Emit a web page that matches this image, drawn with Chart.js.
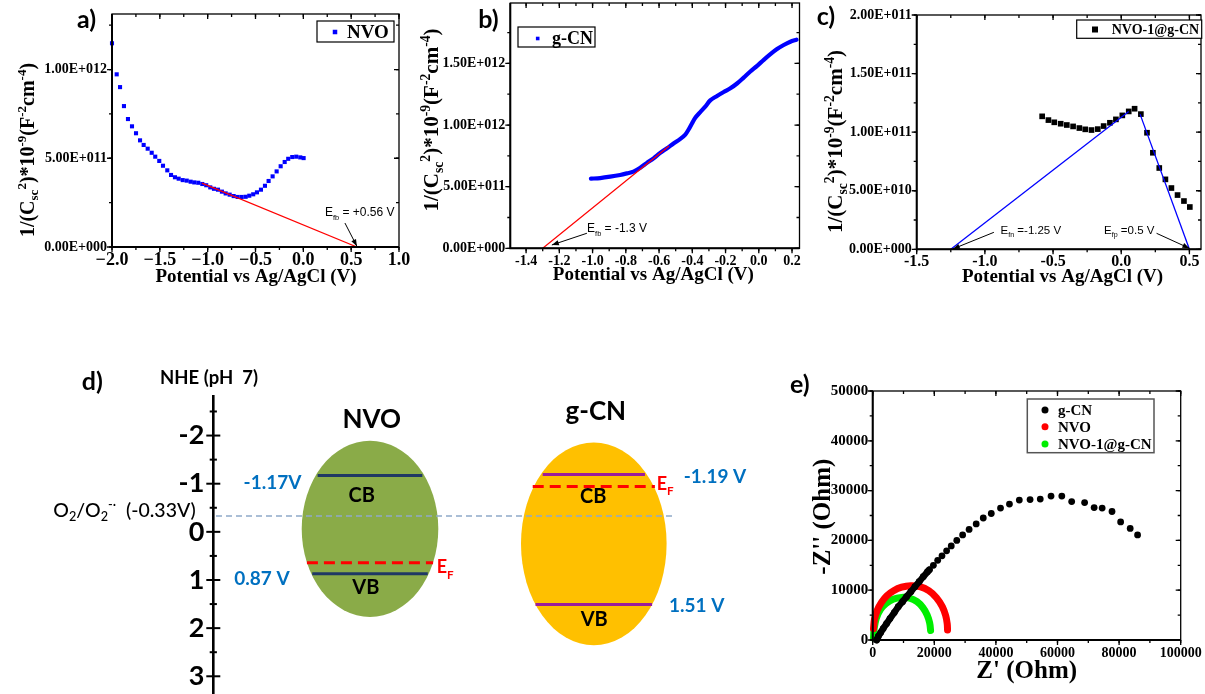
<!DOCTYPE html>
<html>
<head>
<meta charset="utf-8">
<script src="https://cdn.jsdelivr.net/npm/chart.js@4.4.1/dist/chart.umd.min.js"></script>
<style>
  html, body { margin: 0; padding: 0; background: #fff; }
  #fig { position: relative; width: 1205px; height: 694px; overflow: hidden; background: #fff; }
  #fig canvas { position: absolute; }
</style>
</head>
<body>
<div id="fig">
  <canvas id="pa" width="412" height="290" style="left:0;top:0"></canvas>
  <canvas id="pb" width="400" height="290" style="left:405px;top:0"></canvas>
  <canvas id="pc" width="405" height="290" style="left:800px;top:0"></canvas>
  <canvas id="pd" width="780" height="344" style="left:0;top:350px"></canvas>
  <canvas id="pe" width="415" height="324" style="left:790px;top:370px"></canvas>
</div>
<script>
// ---------------- data ----------------
// 1/C^2 values are kept in units of 1e12 (a, b) and 1e11 (c); tick labels restore the full value
const UNIT_AB = 1e12, UNIT_C = 1e11;

// (a) Mott–Schottky, NVO
const nvoPotential = [-2.000,-1.951,-1.916,-1.875,-1.833,-1.791,-1.749,-1.707,-1.669,-1.627,-1.585,-1.548,-1.506,-1.467,-1.422,-1.383,-1.342,-1.303,-1.261,-1.219,-1.178,-1.140,-1.098,-1.056,-1.015,-0.973,-0.934,-0.892,-0.851,-0.812,-0.770,-0.728,-0.687,-0.645,-0.603,-0.565,-0.524,-0.485,-0.443,-0.401,-0.363,-0.321,-0.279,-0.237,-0.195,-0.158,-0.116,-0.074,-0.032,0.003];
const nvoInvC2 = [1.148,0.973,0.901,0.794,0.721,0.680,0.641,0.601,0.575,0.554,0.531,0.509,0.485,0.458,0.432,0.406,0.393,0.385,0.377,0.374,0.368,0.364,0.362,0.355,0.348,0.336,0.328,0.323,0.312,0.302,0.295,0.287,0.282,0.282,0.283,0.289,0.297,0.308,0.323,0.345,0.372,0.398,0.426,0.455,0.479,0.497,0.507,0.509,0.505,0.501];
const nvoFitX = [-1.06, 0.56];
const nvoFitY = [0.36, 0];

// (b) Mott–Schottky, g-CN
const gcnPotential = [-1.010,-0.954,-0.894,-0.834,-0.793,-0.754,-0.713,-0.673,-0.633,-0.593,-0.552,-0.513,-0.472,-0.442,-0.422,-0.402,-0.382,-0.352,-0.322,-0.292,-0.251,-0.211,-0.171,-0.131,-0.091,-0.051,-0.010,0.030,0.070,0.110,0.150,0.190,0.227];
const gcnInvC2 = [0.565,0.570,0.581,0.595,0.608,0.622,0.654,0.693,0.730,0.774,0.812,0.850,0.888,0.923,0.964,1.013,1.059,1.105,1.149,1.200,1.236,1.268,1.298,1.337,1.385,1.434,1.480,1.529,1.575,1.616,1.649,1.676,1.692];
const gcnFitX = [-1.3, -0.54];
const gcnFitY = [0, 0.83];

// (c) Mott–Schottky, NVO-1@g-CN
const compPotential = [-0.580,-0.534,-0.491,-0.444,-0.399,-0.353,-0.307,-0.264,-0.218,-0.172,-0.129,-0.083,-0.039,0.008,0.055,0.098,0.144,0.189,0.232,0.279,0.324,0.368,0.413,0.460,0.503];
const compInvC2 = [1.135,1.103,1.084,1.072,1.061,1.049,1.035,1.024,1.018,1.026,1.052,1.080,1.109,1.143,1.177,1.200,1.154,0.995,0.824,0.694,0.597,0.523,0.463,0.412,0.361];
const compFitNX = [-1.25, 0.055];
const compFitNY = [0, 1.177];
const compFitPX = [0.138, 0.5];
const compFitPY = [1.154, 0];

// (d) band positions, V vs NHE (pH 7)
const bandNames = ['NVO', 'g-CN'];
const cbEdge = [-1.17, -1.19];
const vbEdge = [0.87, 1.51];
const fermiLevel = [0.64, -0.94];
const superoxidePotential = -0.33;

// (e) Nyquist, Ohm
const gcnZre = [1300,1800,2600,3400,4500,5600,7000,8300,9700,11000,12400,13700,15100,16400,17800,18400,19700,21100,22500,24000,25500,27300,29200,31300,33600,35900,38500,41500,44400,47600,51100,54400,57900,61400,64600,68800,71900,74500,77700,80500,83600,86000];
const gcnZim = [0,700,1500,2300,3300,4300,5500,6700,7700,8700,9700,10700,11700,12700,13700,14100,15000,16000,16900,17900,18900,20000,21100,22200,23300,24500,25400,26500,27300,28100,28200,28300,28900,28900,27800,27600,26600,26500,25800,23700,22400,21100];
const nvoZre = [250,600,1500,2900,4600,6800,9400,12300,15300,18200,20700,22600,23700,24200,24300];
const nvoZim = [2300,4200,6000,7600,8900,9900,10600,10900,10700,9900,8500,6700,4900,3200,2000];
const compZre = [250,500,1200,2500,4300,6600,9300,12000,14400,16300,17700,18500,18800];
const compZim = [400,2400,4400,6100,7300,8200,8550,8400,7700,6500,5000,3400,1900];

// ---------------- helpers ----------------
const SERIF = '"Liberation Serif", "Times New Roman", serif';
const ARIAL = '"Liberation Sans", Arial, sans-serif';
const CALI = 'Lato, "Open Sans", sans-serif';

const pts = (xs, ys) => xs.map((x, i) => ({ x, y: ys[i] }));

function sci(v) {
  if (Math.abs(v) < 1) return '0.00E+000';
  const e = Math.floor(Math.log10(Math.abs(v)) + 1e-9);
  const m = v / Math.pow(10, e);
  return m.toFixed(2) + 'E' + (e >= 0 ? '+' : '-') + String(Math.abs(e)).padStart(3, '0');
}

function richText(ctx, parts, x, y, o) {
  const size = o.size, wt = o.weight || 'normal', fam = o.family;
  const big = `${wt} ${size}px ${fam}`;
  const small = `${wt} ${(size * (o.scriptScale || 0.65)).toFixed(1)}px ${fam}`;
  const segs = parts.map(p => typeof p === 'string' ? { t: p } : { t: p.t, sub: p.sub, sup: p.sup });
  let total = 0;
  for (const s of segs) { ctx.font = (s.sub || s.sup) ? small : big; s.w = ctx.measureText(s.t).width; total += s.w; }
  ctx.save();
  ctx.translate(x, y);
  if (o.rotate) ctx.rotate(o.rotate);
  ctx.fillStyle = o.color || '#000';
  ctx.textBaseline = 'alphabetic';
  ctx.textAlign = 'left';
  let cx = o.align === 'center' ? -total / 2 : o.align === 'right' ? -total : 0;
  for (const s of segs) {
    ctx.font = (s.sub || s.sup) ? small : big;
    const dy = s.sub ? size * (o.subShift || 0.22) : s.sup ? -size * (o.supShift || 0.4) : 0;
    ctx.fillText(s.t, cx, dy);
    cx += s.w;
  }
  ctx.restore();
}

function drawArrow(ctx, x0, y0, x1, y1, head, half) {
  ctx.beginPath(); ctx.moveTo(x0, y0); ctx.lineTo(x1, y1); ctx.stroke();
  const a = Math.atan2(y1 - y0, x1 - x0);
  const bx = x1 - head * Math.cos(a), by = y1 - head * Math.sin(a);
  ctx.beginPath();
  ctx.moveTo(x1, y1);
  ctx.lineTo(bx + half * Math.sin(a), by - half * Math.cos(a));
  ctx.lineTo(bx - half * Math.sin(a), by + half * Math.cos(a));
  ctx.closePath(); ctx.fill();
}

function drawMarker(ctx, style, x, y, size, color) {
  ctx.fillStyle = color;
  if (style === 'rect') ctx.fillRect(x - size / 2, y - size / 2, size, size);
  else { ctx.beginPath(); ctx.arc(x, y, size / 2, 0, Math.PI * 2); ctx.fill(); }
}

// fixed axis thickness so the plot frame lands where it should
const fixAxis = size => scale => {
  if (scale.isHorizontal()) scale.height = size; else scale.width = size;
  scale.paddingLeft = scale.paddingRight = scale.paddingTop = scale.paddingBottom = 0;
};

// ---------------- plugins ----------------
// boxed frame with major & minor ticks on all four sides
const framePlugin = o => ({
  id: 'frame',
  afterDraw(chart) {
    const { ctx, chartArea: c } = chart;
    const xs = chart.scales.x, ys = chart.scales.y;
    ctx.save();
    ctx.strokeStyle = '#000';
    ctx.lineWidth = o.box;
    ctx.strokeRect(c.left, c.top, c.right - c.left, c.bottom - c.top);
    ctx.lineWidth = o.axis;
    ctx.beginPath(); ctx.moveTo(c.left, c.top); ctx.lineTo(c.left, c.bottom); ctx.lineTo(c.right, c.bottom); ctx.stroke();
    ctx.lineWidth = o.tick;
    const each = (scale, step, len) => {
      const i0 = Math.ceil(scale.min / step - 1e-6), i1 = Math.floor(scale.max / step + 1e-6);
      for (let i = i0; i <= i1; i++) {
        const p = scale.getPixelForValue(i * step);
        ctx.beginPath();
        if (scale.isHorizontal()) {
          ctx.moveTo(p, c.bottom); ctx.lineTo(p, c.bottom + len);
          ctx.moveTo(p, c.top); ctx.lineTo(p, c.top + len);
        } else {
          ctx.moveTo(c.left - len, p); ctx.lineTo(c.left, p);
          ctx.moveTo(c.right, p); ctx.lineTo(c.right - len, p);
        }
        ctx.stroke();
      }
    };
    each(xs, xs.options.ticks.stepSize, o.major);
    each(xs, o.xMinor, o.minor);
    each(ys, ys.options.ticks.stepSize, o.major);
    each(ys, o.yMinor, o.minor);
    ctx.restore();
  }
});

const textPlugin = items => ({
  id: 'texts',
  afterDraw(chart) { for (const it of items) richText(chart.ctx, it.parts, it.x, it.y, it); }
});

const legendPlugin = o => ({
  id: 'boxLegend',
  afterDraw(chart) {
    const ctx = chart.ctx;
    ctx.save();
    ctx.fillStyle = '#fff';
    ctx.fillRect(o.box[0], o.box[1], o.box[2], o.box[3]);
    ctx.strokeStyle = o.stroke || '#000';
    ctx.lineWidth = o.lineWidth || 1.2;
    ctx.strokeRect(o.box[0], o.box[1], o.box[2], o.box[3]);
    for (const it of o.items) {
      const ds = chart.data.datasets[it.ds];
      drawMarker(ctx, it.style, it.mx, it.y, it.size, ds.borderColor);
      ctx.fillStyle = '#000';
      ctx.font = `bold ${o.font}px ${SERIF}`;
      ctx.textBaseline = 'middle';
      ctx.textAlign = 'left';
      ctx.fillText(ds.label, it.tx, it.y + 1);
    }
    ctx.restore();
  }
});

// annotation text + arrow, anchored in data coordinates
const notePlugin = items => ({
  id: 'notes',
  afterDraw(chart) {
    const ctx = chart.ctx, xs = chart.scales.x, ys = chart.scales.y;
    ctx.save();
    ctx.strokeStyle = '#000'; ctx.fillStyle = '#000'; ctx.lineWidth = 1;
    for (const n of items) {
      richText(ctx, n.parts, xs.getPixelForValue(n.tx), ys.getPixelForValue(n.ty), { size: n.size, family: ARIAL, subShift: 0.3, scriptScale: 0.62 });
      drawArrow(ctx, xs.getPixelForValue(n.from[0]), ys.getPixelForValue(n.from[1]),
        xs.getPixelForValue(n.to[0]), ys.getPixelForValue(n.to[1]), 7, 2.6);
    }
    ctx.restore();
  }
});

const baseOptions = (cfg) => ({
  responsive: false, animation: false, devicePixelRatio: 1, events: [],
  layout: { padding: cfg.padding },
  plugins: { legend: { display: false }, tooltip: { enabled: false } },
  scales: {
    x: {
      type: 'linear', min: cfg.x.min, max: cfg.x.max, afterFit: fixAxis(cfg.x.size),
      grid: { display: false, drawTicks: false }, border: { display: false },
      ticks: { stepSize: cfg.x.step, includeBounds: false, autoSkip: false, maxRotation: 0, minRotation: 0,
        padding: cfg.x.pad, color: '#000', font: { family: SERIF, weight: 'bold', size: cfg.x.font, lineHeight: 1.2 },
        callback: cfg.x.fmt }
    },
    y: {
      type: 'linear', min: cfg.y.min, max: cfg.y.max, afterFit: fixAxis(cfg.y.size),
      grid: { display: false, drawTicks: false }, border: { display: false },
      ticks: { stepSize: cfg.y.step, includeBounds: false, autoSkip: false,
        padding: cfg.y.pad, color: '#000', font: { family: SERIF, weight: 'bold', size: cfg.y.font },
        callback: cfg.y.fmt }
    }
  }
});

const msYTitle = ['1/(C', { t: 'sc', sub: true }, { t: '2', sup: true }, ')*10', { t: '-9', sup: true },
  '(F', { t: '-2', sup: true }, 'cm', { t: '-4', sup: true }, ')'];
const potTitle = ['Potential vs Ag/AgCl (V)'];
const fmt1 = v => v.toFixed(1);
const fmt1m = v => v.toFixed(1).replace('-', '\u2212');
const sciAB = v => sci(Math.round(v * 100) / 100 * UNIT_AB);
const sciC = v => sci(Math.round(v * 100) / 100 * UNIT_C);

// ---------------- (a) ----------------
new Chart(document.getElementById('pa'), {
  type: 'scatter',
  data: { datasets: [
    { label: 'fit', data: pts(nvoFitX, nvoFitY), showLine: true, borderColor: '#ff0000', borderWidth: 1.2, pointRadius: 0 },
    { label: 'NVO', data: pts(nvoPotential, nvoInvC2), pointStyle: 'rect', pointRadius: 2.9,
      pointBackgroundColor: '#0000ff', borderColor: '#0000ff', pointBorderWidth: 0, clip: false }
  ] },
  options: baseOptions({
    padding: { left: 0, top: 14, right: 13, bottom: 0 },
    x: { min: -2, max: 1, step: 0.5, size: 43, pad: 2.5, font: 18, fmt: fmt1m },
    y: { min: 0, max: 1.313, step: 0.5, size: 112, pad: 5, font: 14, fmt: sciAB }
  }),
  plugins: [
    framePlugin({ box: 1.3, axis: 2, tick: 1.3, major: 5, minor: 3, xMinor: 0.25, yMinor: 0.25 }),
    notePlugin([{ parts: ['E', { t: 'fb', sub: true }, ' = +0.56 V'], tx: 0.226, ty: 0.1746, size: 12,
      from: [0.435, 0.135], to: [nvoFitX[1], 0.004] }]),
    legendPlugin({ box: [317, 21, 77, 21], font: 19, items: [{ ds: 1, style: 'rect', size: 4.5, mx: 335, y: 32, tx: 347 }] }),
    textPlugin([
      { parts: msYTitle, x: 33.5, y: 150, rotate: -Math.PI / 2, size: 20, weight: 'bold', family: SERIF, align: 'center' },
      { parts: potTitle, x: 256, y: 282, size: 19, weight: 'bold', family: SERIF, align: 'center' },
      { parts: ['a)'], x: 77, y: 28, size: 25, weight: 'bold', family: CALI }
    ])
  ]
});

// ---------------- (b) ----------------
new Chart(document.getElementById('pb'), {
  type: 'scatter',
  data: { datasets: [
    { label: 'fit', data: pts(gcnFitX, gcnFitY), showLine: true, borderColor: '#ff0000', borderWidth: 1.2, pointRadius: 0 },
    { label: 'g-CN', data: pts(gcnPotential, gcnInvC2), showLine: true, borderColor: '#0000ff', borderWidth: 4.2,
      tension: 0.3, pointRadius: 0, borderCapStyle: 'round', clip: false }
  ] },
  options: baseOptions({
    padding: { left: 0, top: 3, right: 5.5, bottom: 0 },
    x: { min: -1.495, max: 0.245, step: 0.2, size: 41.7, pad: 5, font: 14, fmt: fmt1 },
    y: { min: 0, max: 1.99, step: 0.5, size: 105.3, pad: 5, font: 14, fmt: sciAB }
  }),
  plugins: [
    framePlugin({ box: 1.3, axis: 2, tick: 1.3, major: 5, minor: 3, xMinor: 0.1, yMinor: 0.25 }),
    notePlugin([{ parts: ['E', { t: 'fb', sub: true }, ' = -1.3 V'], tx: -1.033, ty: 0.133, size: 12,
      from: [-1.034, 0.122], to: [-1.245, 0.027] }]),
    legendPlugin({ box: [113, 27, 77, 20], font: 18, items: [{ ds: 1, style: 'rect', size: 3.6, mx: 132.7, y: 38.5, tx: 147 }] }),
    textPlugin([
      { parts: msYTitle, x: 33, y: 120, rotate: -Math.PI / 2, size: 21, weight: 'bold', family: SERIF, align: 'center' },
      { parts: potTitle, x: 248.3, y: 280, size: 19, weight: 'bold', family: SERIF, align: 'center' },
      { parts: ['b)'], x: 73.3, y: 28, size: 25, weight: 'bold', family: CALI }
    ])
  ]
});

// ---------------- (c) ----------------
new Chart(document.getElementById('pc'), {
  type: 'scatter',
  data: { datasets: [
    { label: 'fit n', data: pts(compFitNX, compFitNY), showLine: true, borderColor: '#0000ff', borderWidth: 1.3, pointRadius: 0 },
    { label: 'fit p', data: pts(compFitPX, compFitPY), showLine: true, borderColor: '#0000ff', borderWidth: 1.3, pointRadius: 0 },
    { label: 'NVO-1@g-CN', data: pts(compPotential, compInvC2), pointStyle: 'rect', pointRadius: 4,
      pointBackgroundColor: '#000', borderColor: '#000', pointBorderWidth: 0, clip: false }
  ] },
  options: baseOptions({
    padding: { left: 0, top: 15, right: 0, bottom: 0 },
    x: { min: -1.5, max: 0.585, step: 0.5, size: 40.7, pad: 2.8, font: 16, fmt: fmt1 },
    y: { min: 0, max: 2, step: 0.5, size: 116.7, pad: 5, font: 14, fmt: sciC }
  }),
  plugins: [
    framePlugin({ box: 1.3, axis: 2, tick: 1.3, major: 5, minor: 3, xMinor: 0.25, yMinor: 0.25 }),
    notePlugin([
      { parts: ['E', { t: 'fn', sub: true }, ' =-1.25 V'], tx: -0.885, ty: 0.131, size: 11.5,
        from: [-0.934, 0.145], to: [compFitNX[0] + 0.015, 0.003] },
      { parts: ['E', { t: 'fp', sub: true }, ' =0.5 V'], tx: -0.126, ty: 0.131, size: 11.5,
        from: [0.259, 0.1365], to: [compFitPX[1], 0.0085] }
    ]),
    legendPlugin({ box: [276.7, 20, 125, 18.3], font: 14, items: [{ ds: 2, style: 'rect', size: 6, mx: 295, y: 29.5, tx: 311.7 }] }),
    textPlugin([
      { parts: msYTitle, x: 42, y: 141.5, rotate: -Math.PI / 2, size: 21, weight: 'bold', family: SERIF, align: 'center' },
      { parts: potTitle, x: 262.5, y: 282, size: 19, weight: 'bold', family: SERIF, align: 'center' },
      { parts: ['c)'], x: 16.7, y: 25, size: 25, weight: 'bold', family: CALI }
    ])
  ]
});

// ---------------- (d) band diagram ----------------
// ellipse bodies: centre/half-width in layout units, centre/half-height in V
const bandBodies = [
  { cx: 156.7, rx: 68.3, cy: -0.062, ry: 1.83, fill: '#8AAB48' },
  { cx: 380.5, rx: 72.8, cy: 0.249, ry: 2.106, fill: '#FFC000' }
];
// horizontal extent of a level inside its ellipse body
function chord(body, level, inset) {
  const t = (level - body.cy) / body.ry;
  const h = body.rx * Math.sqrt(Math.max(0, 1 - t * t)) - inset;
  return [body.cx - h, body.cx + h];
}
const level = (body, v, inset, color, dash, width) => {
  const [x0, x1] = chord(body, v, inset);
  return { data: [{ x: x0, y: v }, { x: x1, y: v }], showLine: true, borderColor: color,
    borderWidth: width, borderDash: dash, pointRadius: 0 };
};
const NAVY = '#1F3864', PURPLE = '#9B1D9B', RED = '#FF0000', BLUE = '#0070C0';

const ellipsePlugin = {
  id: 'bodies',
  beforeDatasetsDraw(chart) {
    const ctx = chart.ctx, xs = chart.scales.x, ys = chart.scales.y;
    ctx.save();
    for (const b of bandBodies) {
      const x = xs.getPixelForValue(b.cx), y = ys.getPixelForValue(b.cy);
      const rx = xs.getPixelForValue(b.cx + b.rx) - x;
      const ry = Math.abs(ys.getPixelForValue(b.cy + b.ry) - y);
      ctx.fillStyle = b.fill;
      ctx.beginPath(); ctx.ellipse(x, y, rx, ry, 0, 0, Math.PI * 2); ctx.fill();
    }
    ctx.restore();
  }
};
const crossTicks = {
  id: 'crossTicks',
  afterDraw(chart) {
    const ctx = chart.ctx, ys = chart.scales.y, x = chart.chartArea.left;
    ctx.save(); ctx.strokeStyle = '#000'; ctx.lineWidth = 2;
    const i0 = Math.ceil(ys.min * 2 - 1e-6), i1 = Math.floor(ys.max * 2 + 1e-6);
    for (let i = i0; i <= i1; i++) {
      const p = ys.getPixelForValue(i / 2), h = i % 2 === 0 ? 7 : 3.6;
      ctx.beginPath(); ctx.moveTo(x - h, p); ctx.lineTo(x + h, p); ctx.stroke();
    }
    ctx.restore();
  }
};

new Chart(document.getElementById('pd'), {
  type: 'scatter',
  data: { datasets: [
    { data: [{ x: 2.7, y: superoxidePotential }, { x: 460, y: superoxidePotential }], showLine: true,
      borderColor: '#8FA9C9', borderWidth: 1.5, borderDash: [6, 4], pointRadius: 0 },
    level(bandBodies[0], cbEdge[0], 2, NAVY, [], 3),
    level(bandBodies[0], vbEdge[0], 1, NAVY, [], 3),
    level(bandBodies[0], fermiLevel[0], 0, RED, [11, 6], 3),
    level(bandBodies[1], cbEdge[1], 2, PURPLE, [], 3),
    level(bandBodies[1], vbEdge[1], 0, PURPLE, [], 3),
    level(bandBodies[1], fermiLevel[1], -1, RED, [11, 6], 3)
  ] },
  options: {
    responsive: false, animation: false, devicePixelRatio: 1, events: [],
    layout: { padding: { left: 0, top: 46.7, right: 0, bottom: 0 } },
    plugins: { legend: { display: false }, tooltip: { enabled: false } },
    scales: {
      x: { type: 'linear', min: 0, max: 566.7, display: false },
      y: { type: 'linear', reverse: true, min: -2.807, max: 3.368, afterFit: fixAxis(213.3),
        grid: { display: false, drawTicks: false }, border: { display: true, color: '#000', width: 2.6 },
        ticks: { stepSize: 1, includeBounds: false, padding: 9, color: '#000',
          font: { family: CALI, weight: 'bold', size: 27 }, callback: v => String(v) } }
    }
  },
  plugins: [
    ellipsePlugin, crossTicks,
    textPlugin([
      { parts: ['d)'], x: 81.7, y: 40, size: 25, weight: 'bold', family: CALI },
      { parts: ['NHE (pH  7)'], x: 209, y: 34, size: 18.5, weight: 'bold', family: CALI, align: 'center' },
      { parts: [bandNames[0]], x: 371.7, y: 78, size: 26, weight: 'bold', family: CALI, align: 'center' },
      { parts: [bandNames[1]], x: 595.8, y: 69.5, size: 26, weight: 'bold', family: CALI, align: 'center' },
      { parts: ['CB'], x: 361.7, y: 151.5, size: 20, weight: 'bold', family: CALI, align: 'center' },
      { parts: ['VB'], x: 365.8, y: 244, size: 20, weight: 'bold', family: CALI, align: 'center' },
      { parts: ['CB'], x: 593.3, y: 152.5, size: 20, weight: 'bold', family: CALI, align: 'center' },
      { parts: ['VB'], x: 594.2, y: 276, size: 20, weight: 'bold', family: CALI, align: 'center' },
      { parts: ['-1.17V'], x: 272.5, y: 139, size: 19, weight: 'bold', family: CALI, align: 'center', color: BLUE },
      { parts: ['0.87 V'], x: 262, y: 235, size: 19, weight: 'bold', family: CALI, align: 'center', color: BLUE },
      { parts: ['-1.19 V'], x: 715, y: 133.3, size: 19, weight: 'bold', family: CALI, align: 'center', color: BLUE },
      { parts: ['1.51 V'], x: 696.7, y: 261.5, size: 19, weight: 'bold', family: CALI, align: 'center', color: BLUE },
      { parts: ['O', { t: '2', sub: true }, '/O', { t: '2', sub: true }, { t: '-\u00b7', sup: true }, '  (-0.33V)'],
        x: 53.3, y: 166.7, size: 19.5, weight: '500', family: CALI },
      { parts: ['E', { t: 'F', sub: true }], x: 436.7, y: 223.3, size: 18, weight: 'bold', family: CALI, color: RED, subShift: 0.3 },
      { parts: ['E', { t: 'F', sub: true }], x: 656.7, y: 140, size: 18, weight: 'bold', family: CALI, color: RED, subShift: 0.3 }
    ])
  ]
});

// ---------------- (e) Nyquist ----------------
new Chart(document.getElementById('pe'), {
  type: 'scatter',
  data: { datasets: [
    { label: 'g-CN', data: pts(gcnZre, gcnZim), pointRadius: 3.4, pointBackgroundColor: '#000', borderColor: '#000',
      pointBorderWidth: 0, showLine: true, borderWidth: 6.5, borderCapStyle: 'round', clip: false,
      segment: { borderColor: ctx => ctx.p1.parsed.x <= 18500 ? '#000' : 'rgba(0,0,0,0)' } },
    { label: 'NVO', data: pts(nvoZre, nvoZim), showLine: true, borderColor: '#ff0000', borderWidth: 7,
      tension: 0.4, borderCapStyle: 'round', pointRadius: 0, clip: false },
    { label: 'NVO-1@g-CN', data: pts(compZre, compZim), showLine: true, borderColor: '#00ee00', borderWidth: 7,
      tension: 0.4, borderCapStyle: 'round', pointRadius: 0, clip: false }
  ] },
  options: baseOptions({
    padding: { left: 0, top: 21, right: 24.3, bottom: 0 },
    x: { min: 0, max: 100000, step: 20000, size: 54, pad: 5, font: 14, fmt: v => String(v) },
    y: { min: 0, max: 50000, step: 10000, size: 82.7, pad: 4.4, font: 15, fmt: v => String(v) }
  }),
  plugins: [
    framePlugin({ box: 1.3, axis: 2, tick: 1.3, major: 5, minor: 3, xMinor: 10000, yMinor: 5000 }),
    legendPlugin({ box: [237.3, 29, 126.7, 53.7], stroke: '#555', lineWidth: 1.5, font: 15, items: [
      { ds: 0, style: 'circle', size: 7, mx: 255, y: 40 },
      { ds: 1, style: 'circle', size: 7, mx: 255, y: 56.7 },
      { ds: 2, style: 'circle', size: 7, mx: 255, y: 74 }
    ].map(it => ({ ...it, tx: 268 })) }),
    textPlugin([
      { parts: ["-Z'' (Ohm)"], x: 40, y: 146.7, rotate: -Math.PI / 2, size: 25, weight: 'bold', family: SERIF, align: 'center' },
      { parts: ["Z' (Ohm)"], x: 236.7, y: 308, size: 25, weight: 'bold', family: SERIF, align: 'center' },
      { parts: ['e)'], x: 0, y: 23, size: 25, weight: 'bold', family: CALI }
    ])
  ]
});
</script>
</body>
</html>
